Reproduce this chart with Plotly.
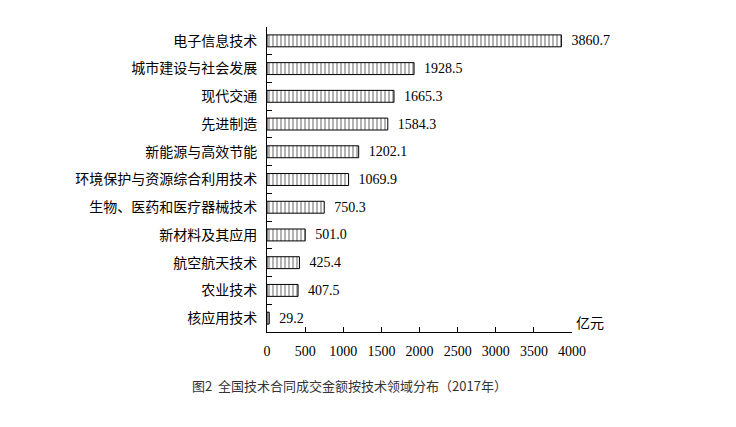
import plotly.graph_objects as go

categories = ["电子信息技术", "城市建设与社会发展", "现代交通", "先进制造", "新能源与高效节能",
              "环境保护与资源综合利用技术", "生物、医药和医疗器械技术", "新材料及其应用",
              "航空航天技术", "农业技术", "核应用技术"]
values = [3860.7, 1928.5, 1665.3, 1584.3, 1202.1, 1069.9, 750.3, 501.0, 425.4, 407.5, 29.2]
x_ticks = [0, 500, 1000, 1500, 2000, 2500, 3000, 3500, 4000]
unit_label = "亿元"
caption = "图2  全国技术合同成交金额按技术领域分布（2017年）"

cats_r = categories[::-1]
vals_r = values[::-1]

L, R, T, B = 259, 164, 19, 95
W, H = 728, 419
pw = W - L - R

fig = go.Figure(go.Bar(
    y=cats_r, x=vals_r, orientation="h",
    width=0.43,
    marker=dict(color="white", line=dict(color="black", width=1),
                pattern=dict(shape="|", size=4, solidity=0.3, fgcolor="black", bgcolor="white")),
    text=["  " + f"{v:.1f}" for v in vals_r],
    textposition="outside", cliponaxis=False, constraintext="none",
    textfont=dict(family="Liberation Serif", size=14, color="black"),
))

fig.update_layout(
    width=W, height=H,
    margin=dict(l=L, r=R, t=T, b=B),
    paper_bgcolor="white", plot_bgcolor="white",
    showlegend=False,
    font=dict(family="Noto Sans CJK SC", size=14, color="black"),
    xaxis=dict(range=[0, 4000], tickvals=x_ticks, ticks="inside", ticklen=5, tickcolor="black",
               showline=True, linecolor="black", linewidth=1, showgrid=False, zeroline=False,
               tickfont=dict(family="Liberation Serif", size=14, color="black"),
               ticklabelstandoff=6),
    yaxis=dict(ticks="inside", ticklen=5, tickcolor="black", tickson="boundaries",
               showline=True, linecolor="black", linewidth=1, showgrid=False,
               tickfont=dict(family="Noto Sans CJK SC", size=14, color="black"),
               ticklabelstandoff=6, range=[-0.5, 10.5]),
    annotations=[
        dict(text=unit_label, xref="paper", yref="paper", x=1.0, y=0.0, xanchor="left", yanchor="bottom",
             xshift=2, yshift=-2, showarrow=False,
             font=dict(family="Noto Sans CJK SC", size=14, color="black")),
        dict(text=caption, xref="paper", yref="paper", x=(182 - L) / pw, y=0,
             xanchor="left", yanchor="middle", yshift=-53, showarrow=False,
             font=dict(family="Noto Sans CJK SC", size=13, color="#333333")),
    ],
)

fig.write_html("out.html")
